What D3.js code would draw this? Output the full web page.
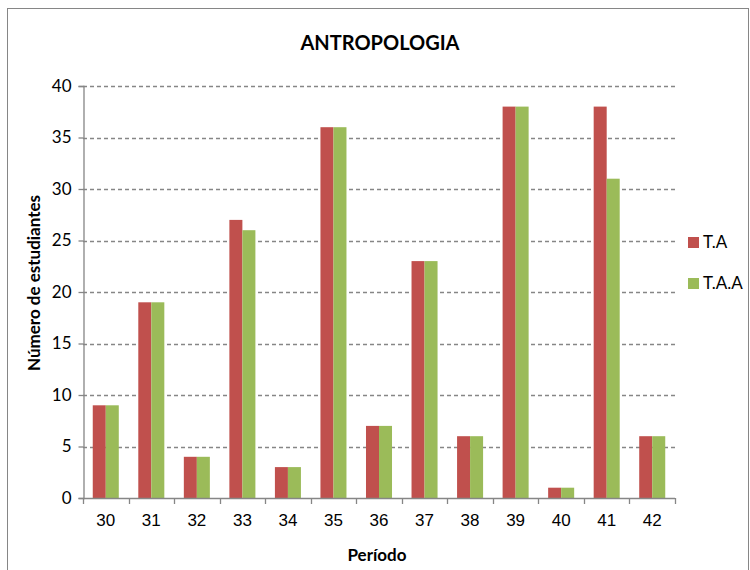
<!DOCTYPE html>
<html><head><meta charset="utf-8">
<script src="https://cdn.jsdelivr.net/npm/d3@7"></script>
<style>body{margin:0;background:#fff;}svg{display:block;font-family:Lato,"Open Sans",sans-serif;}</style>
</head><body>
<svg id="c" width="750" height="570"></svg>
<script>
const categories = ["30","31","32","33","34","35","36","37","38","39","40","41","42"];
const seriesNames = ["T.A","T.A.A"];
const valuesTA  = [9,19,4,27,3,36,7,23,6,38,1,38,6];
const valuesTAA = [9,19,4,26,3,36,7,23,6,38,1,31,6];
const yTicks = [0,5,10,15,20,25,30,35,40];
const colors = ["#C0504D","#9BBB59"];

const svg = d3.select("#c");
svg.append("rect").attr("x",7.5).attr("y",8.5).attr("width",741).attr("height",570)
  .attr("fill","#fff").attr("stroke","#868686").attr("stroke-width",1);

const L=83, R=675, T=86, B=498;
const x = d3.scaleBand().domain(categories).range([L,R]);
const y = d3.scaleLinear().domain([0,40]).range([B,T]);
const bw = x.bandwidth()/3.5;
const xs = d3.scaleBand().domain(seriesNames).range([0,2*bw]);

// gridlines
svg.append("g").selectAll("line").data(yTicks.filter(d=>d>0)).join("line")
  .attr("x1",L).attr("x2",R).attr("y1",d=>Math.round(y(d))+0.5).attr("y2",d=>Math.round(y(d))+0.5)
  .attr("stroke","#868686").attr("stroke-dasharray","4,3").attr("stroke-width",1.3);

const data = categories.map((c,i)=>({c, vals:[valuesTA[i],valuesTAA[i]]}));
const g = svg.append("g");
data.forEach(d=>{
  d.vals.forEach((v,j)=>{
    g.append("rect")
      .attr("x", x(d.c) + (x.bandwidth()-2*bw)/2 + xs(seriesNames[j]))
      .attr("width", xs.bandwidth())
      .attr("y", y(v)).attr("height", B - y(v))
      .attr("fill", colors[j]);
  });
});

// y axis
const ya = svg.append("g").attr("transform",`translate(${L+0.5},0)`)
  .call(d3.axisLeft(y).tickValues(yTicks).tickSize(5).tickPadding(7));
ya.selectAll("path,line").attr("stroke","#868686").attr("stroke-width",1.3);
ya.selectAll("text").attr("font-size",17).attr("fill","#000").attr("font-family","Lato,sans-serif");

// x axis
const xa = svg.append("g").attr("transform",`translate(0,${B+0.5})`)
  .call(d3.axisBottom(x).tickSize(0).tickPadding(15));
xa.select("path").attr("stroke","#868686").attr("stroke-width",1.3).attr("d",`M${L},0H${R}`);
xa.selectAll("text").attr("font-size",17).attr("fill","#000").attr("dy","0.71em");
svg.append("g").selectAll("line").data(categories.concat(["end"])).join("line")
  .attr("x1",(d,i)=>Math.round(L+i*x.step())+0.5).attr("x2",(d,i)=>Math.round(L+i*x.step())+0.5)
  .attr("y1",B).attr("y2",B+6).attr("stroke","#868686").attr("stroke-width",1.3);

// title
svg.append("text").attr("x",380).attr("y",50).attr("text-anchor","middle")
  .attr("font-weight","bold").attr("font-size",20).text("ANTROPOLOGIA");
svg.append("text").attr("x",377).attr("y",561).attr("text-anchor","middle")
  .attr("font-weight","bold").attr("font-size",17).text("Período");
svg.append("text").attr("transform","translate(40,283) rotate(-90)").attr("text-anchor","middle")
  .attr("font-weight","bold").attr("font-size",17).text("Número de estudiantes");

// legend
const lg = svg.append("g");
seriesNames.forEach((s,i)=>{
  lg.append("rect").attr("x",688).attr("y",237+i*41).attr("width",11).attr("height",11).attr("fill",colors[i]);
  lg.append("text").attr("x",703).attr("y",248+i*41).attr("font-size",17).text(s);
});
</script>
</body></html>
